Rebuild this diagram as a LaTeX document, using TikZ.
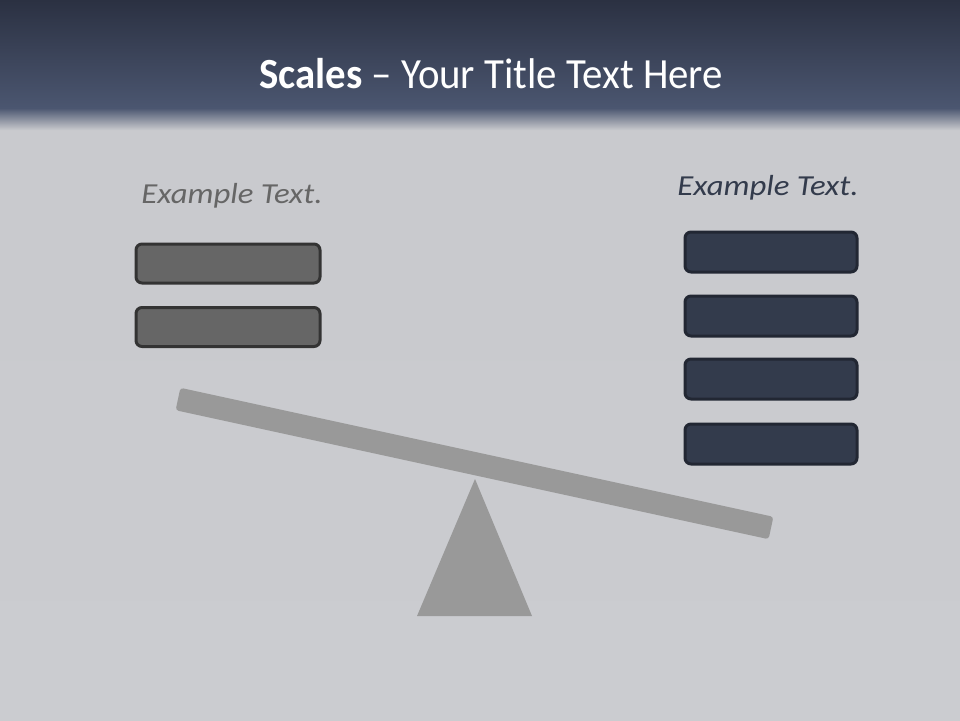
\documentclass[tikz,border=0pt]{standalone}
\usepackage{fontspec}
\setmainfont{Carlito}
\newfontfamily\titlefont[FakeStretch=0.95]{Carlito}
\newfontfamily\exfont[FakeStretch=1.13]{Carlito}
\begin{document}
\begin{tikzpicture}[x=1pt,y=-1pt,
  leftbox/.style={draw=boxedgeL, line width=3pt, fill=boxfillL, rounded corners=6pt, minimum width=184pt, minimum height=39pt, inner sep=0pt},
  rightbox/.style={draw=boxedgeR, line width=3pt, fill=boxfillR, rounded corners=6pt, minimum width=172pt, minimum height=40pt, inner sep=0pt},
  lbl/.style={font=\exfont\fontsize{29}{33}\selectfont\itshape, inner sep=0pt, anchor=base}]
\definecolor{bg}{HTML}{C8C9CD}
\definecolor{bglow}{HTML}{CBCCD0}
\definecolor{hdtop}{HTML}{2B3142}
\definecolor{hdbot}{HTML}{4B5670}
\definecolor{boxfillL}{HTML}{666666}
\definecolor{boxedgeL}{HTML}{333333}
\definecolor{boxfillR}{HTML}{333B4C}
\definecolor{boxedgeR}{HTML}{222733}
\definecolor{scalegray}{HTML}{999999}
\definecolor{lbltxtL}{HTML}{666666}
\definecolor{lbltxtR}{HTML}{333B4C}
\useasboundingbox (0,0) rectangle (960,720);
% background
\shade[top color=bg, bottom color=bglow] (0,0) rectangle (960,720);
% header
\shade[top color=hdtop, bottom color=hdbot] (0,0) rectangle (960,108);
\shade[top color=hdbot, bottom color=bg] (0,108) rectangle (960,130);
% title
\node[font=\titlefont\fontsize{43}{48}\selectfont, text=white, anchor=base, inner sep=0pt] (title) at (491,88) {\textbf{Scales} – Your Title Text Here};
% labels
\node[lbl, text=lbltxtL] (lt) at (232,203) {Example Text.};
\node[lbl, text=lbltxtR] (rt) at (768,195) {Example Text.};
% left boxes
\node[leftbox] (l1) at (228,263.5) {};
\node[leftbox] (l2) at (228,327) {};
% right boxes
\node[rightbox] (r1) at (771,252) {};
\node[rightbox] (r2) at (771,316) {};
\node[rightbox] (r3) at (771,379) {};
\node[rightbox] (r4) at (771,444) {};
% fulcrum
\fill[scalegray] (417,616) -- (475,479) -- (532,616) -- cycle;
% beam
\fill[scalegray, rounded corners=3pt] (180.4,387.8) -- (773.4,516.8) -- (768.6,539.2) -- (175.6,410.2) -- cycle;
\end{tikzpicture}
\end{document}
